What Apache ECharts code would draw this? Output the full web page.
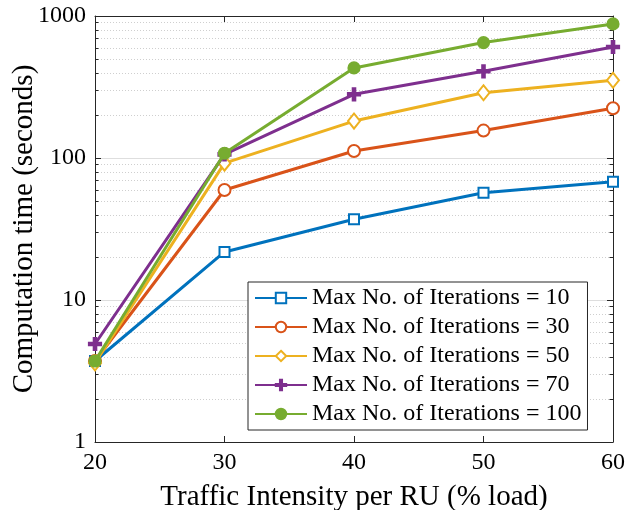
<!DOCTYPE html>
<html><head><meta charset="utf-8">
<script src="https://cdn.jsdelivr.net/npm/echarts@6/dist/echarts.min.js"></script>
<style>html,body{margin:0;padding:0;background:#fff}#c{width:635px;height:510px}</style>
</head><body><div id="c"></div>
<script>
// ---- data ----
const xValues = [20, 30, 40, 50, 60];
const iter10  = [3.72, 21.8, 37, 57, 68];
const iter30  = [3.72, 59.5, 112, 156, 224];
const iter50  = [3.6, 92, 182, 288, 353];
const iter70  = [4.9, 106, 281, 408, 605];
const iter100 = [3.72, 108, 431, 650, 879];
const seriesNames = [
  'Max No. of Iterations = 10',
  'Max No. of Iterations = 30',
  'Max No. of Iterations = 50',
  'Max No. of Iterations = 70',
  'Max No. of Iterations = 100'
];
const xTicks = [20, 30, 40, 50, 60];
const yTicks = [1, 10, 100, 1000];
const yMinorTicks = [2,3,4,5,6,7,8,9,20,30,40,50,60,70,80,90,200,300,400,500,600,700,800,900];
const xTitle = 'Traffic Intensity per RU (% load)';
const yTitle = 'Computation time (seconds)';

// ---- styles ----
const FONT = 'Liberation Serif';
const AX = '#262626';
const colors = ['#0072BD', '#D95319', '#EDB120', '#7E2F8E', '#77AC30'];
const plusPath = 'path://M4,0H6V4H10V6H6V10H4V6H0V4H4Z';
const symbols = ['emptyRect', 'emptyCircle', 'emptyDiamond', plusPath, 'circle'];
const symbolSizes = [10, 12, [12, 15], 12, 11];
const allData = [iter10, iter30, iter50, iter70, iter100];

const lineSeries = allData.map((arr, i) => ({
  name: seriesNames[i],
  type: 'line',
  xAxisIndex: 0, yAxisIndex: 0,
  data: xValues.map((x, j) => [x, arr[j]]),
  symbol: symbols[i],
  symbolSize: symbolSizes[i],
  showAllSymbol: true,
  color: colors[i],
  lineStyle: { width: 3, color: colors[i] },
  itemStyle: { color: colors[i], borderColor: colors[i], borderWidth: 2.2 },
  emphasis: { disabled: true },
  z: 5 + i,
  animation: false
}));

const minorSeries = {
  type: 'custom',
  xAxisIndex: 0, yAxisIndex: 0,
  silent: true,
  z: 1,
  animation: false,
  data: yMinorTicks.map(v => [xTicks[0], v]),
  renderItem: function (params, api) {
    const cs = params.coordSys;
    const y = Math.round(api.coord([xTicks[0], api.value(1)])[1]) + 0.5;
    return {
      type: 'group',
      children: [
        { type: 'line', shape: { x1: cs.x, y1: y, x2: cs.x + cs.width, y2: y },
          style: { stroke: '#cfcfcf', lineWidth: 1, lineDash: [1, 2] } },
        { type: 'line', shape: { x1: cs.x, y1: y, x2: cs.x + 3.5, y2: y },
          style: { stroke: AX, lineWidth: 1 } },
        { type: 'line', shape: { x1: cs.x + cs.width - 3.5, y1: y, x2: cs.x + cs.width, y2: y },
          style: { stroke: AX, lineWidth: 1 } }
      ]
    };
  }
};

const xBase = {
  type: 'value', min: xTicks[0], max: xTicks[xTicks.length - 1], interval: 10,
  axisLine: { show: true, onZero: false, lineStyle: { color: AX, width: 1 } },
  axisTick: { show: true, inside: true, length: 6, lineStyle: { color: AX } },
  splitLine: { show: false }
};
const yBase = {
  type: 'log', logBase: 10, min: yTicks[0], max: yTicks[yTicks.length - 1],
  axisLine: { show: true, onZero: false, lineStyle: { color: AX, width: 1 } },
  axisTick: { show: true, inside: true, length: 6, lineStyle: { color: AX } }
};

const chart = echarts.init(document.getElementById('c'), null, { renderer: 'canvas' });
chart.setOption({
  animation: false,
  backgroundColor: '#fff',
  grid: { left: 95, right: 22, top: 16, bottom: 68, containLabel: false, outerBoundsMode: 'none' },
  xAxis: [
    Object.assign({}, xBase, {
      position: 'bottom',
      axisLabel: { fontFamily: FONT, fontSize: 24, color: '#000', margin: 9, formatter: v => String(v) },
      name: xTitle, nameLocation: 'middle', nameGap: 41, nameMoveOverlap: false,
      nameTextStyle: { fontFamily: FONT, fontSize: 29, color: '#000' }
    }),
    Object.assign({}, xBase, { position: 'top', axisLabel: { show: false } })
  ],
  yAxis: [
    Object.assign({}, yBase, {
      position: 'left',
      axisLabel: { fontFamily: FONT, fontSize: 24, color: '#000', margin: 9, formatter: v => String(v) },
      splitLine: { show: true, lineStyle: { color: '#dedede', width: 1 } },
      name: yTitle, nameLocation: 'middle', nameGap: 56, nameMoveOverlap: false,
      nameTextStyle: { fontFamily: FONT, fontSize: 29, color: '#000' }
    }),
    Object.assign({}, yBase, { position: 'right', axisLabel: { show: false }, splitLine: { show: false } })
  ],
  legend: {
    data: seriesNames,
    orient: 'vertical',
    left: 248, top: 282,
    padding: [4, 6, 4, 6],
    itemWidth: 52, itemHeight: 13, itemGap: 5,
    backgroundColor: '#fff',
    borderColor: AX, borderWidth: 1,
    textStyle: { fontFamily: FONT, fontSize: 24, color: '#000' },
    selectedMode: false
  },
  series: lineSeries.concat([minorSeries])
});
</script>
</body></html>
